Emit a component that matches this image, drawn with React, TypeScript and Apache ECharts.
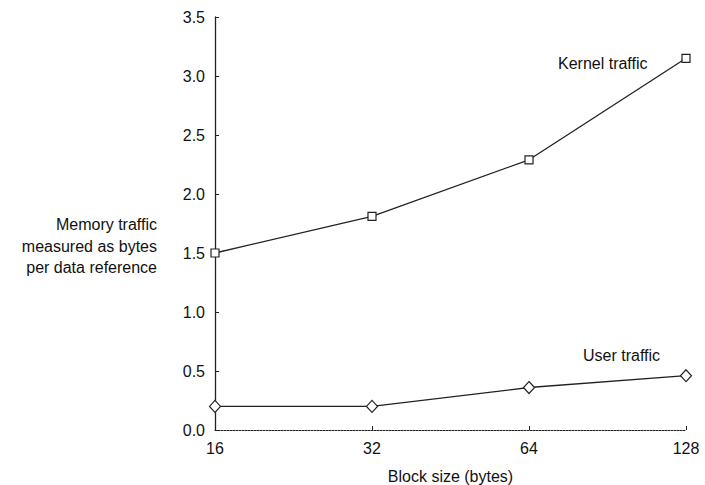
import React, { useEffect, useRef } from "react";
import * as echarts from "echarts";

const blockSizes = ["16", "32", "64", "128"];
const kernelTraffic = [1.5, 1.81, 2.29, 3.15];
const userTraffic = [0.2, 0.2, 0.36, 0.46];
const yTicks = { min: 0, max: 3.5, interval: 0.5 };

const FONT = "Liberation Sans, Arial, Helvetica, sans-serif";

export default function App() {
  const ref = useRef<HTMLDivElement>(null);

  useEffect(() => {
    if (!ref.current) return;
    const chart = echarts.init(ref.current, null, { renderer: "svg" });
    chart.setOption({
      animation: false,
      backgroundColor: "#ffffff",
      grid: {
        left: 215,
        right: 19,
        top: 17,
        bottom: 55,
        containLabel: false,
        outerBoundsMode: "none",
      },
      xAxis: {
        type: "category",
        data: blockSizes,
        boundaryGap: false,
        name: "Block size (bytes)",
        nameLocation: "middle",
        nameGap: 38,
        nameTextStyle: { color: "#111", fontSize: 16, fontFamily: FONT },
        axisLine: { lineStyle: { color: "#222", width: 1, type: [2, 1] } },
        axisTick: { inside: true, length: 4, lineStyle: { color: "#222" } },
        axisLabel: { color: "#111", fontSize: 16, fontFamily: FONT, margin: 10 },
        splitLine: { show: false },
      },
      yAxis: {
        type: "value",
        min: yTicks.min,
        max: yTicks.max,
        interval: yTicks.interval,
        axisLine: { show: true, lineStyle: { color: "#222", width: 1.3 } },
        axisTick: { show: true, inside: true, length: 4, lineStyle: { color: "#222" } },
        axisLabel: {
          color: "#111",
          fontSize: 16,
          fontFamily: FONT,
          margin: 10,
          formatter: (v: number) => v.toFixed(1),
        },
        splitLine: { show: false },
      },
      series: [
        {
          name: "Kernel traffic",
          type: "line",
          data: kernelTraffic,
          symbol: "rect",
          symbolSize: 8,
          lineStyle: { color: "#222", width: 1.3 },
          itemStyle: { color: "#ffffff", borderColor: "#222", borderWidth: 1.2 },
        },
        {
          name: "User traffic",
          type: "line",
          data: userTraffic,
          symbol: "diamond",
          symbolSize: [11, 12],
          lineStyle: { color: "#222", width: 1.3 },
          itemStyle: { color: "#ffffff", borderColor: "#222", borderWidth: 1.2 },
        },
      ],
      graphic: [
        {
          type: "text",
          x: 558,
          y: 63,
          style: {
            text: "Kernel traffic",
            fill: "#111",
            fontSize: 16,
            fontFamily: FONT,
            verticalAlign: "middle",
          },
        },
        {
          type: "text",
          x: 583,
          y: 355,
          style: {
            text: "User traffic",
            fill: "#111",
            fontSize: 16,
            fontFamily: FONT,
            verticalAlign: "middle",
          },
        },
        {
          type: "text",
          x: 157,
          y: 246,
          style: {
            text: "Memory traffic\nmeasured as bytes\nper data reference",
            fill: "#111",
            fontSize: 16,
            fontFamily: FONT,
            align: "right",
            verticalAlign: "middle",
            lineHeight: 21.5,
          },
        },
      ],
    });
    return () => chart.dispose();
  }, []);

  return (
    <div
      ref={ref}
      style={{ position: "absolute", left: 0, top: 0, width: 705, height: 485 }}
    />
  );
}
